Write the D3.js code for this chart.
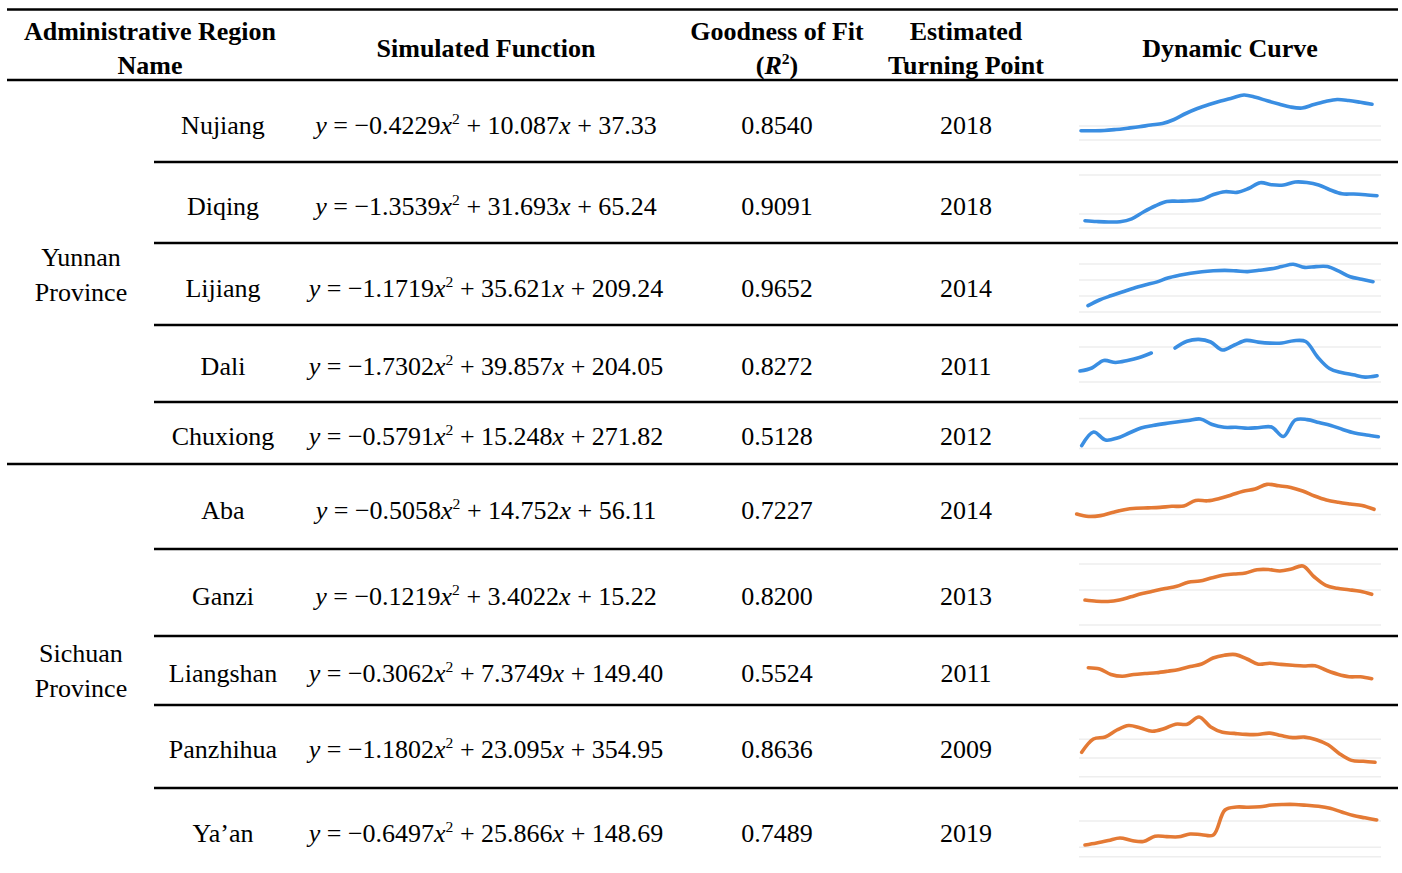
<!DOCTYPE html>
<html><head><meta charset="utf-8">
<script src="https://cdn.jsdelivr.net/npm/d3@7"></script>
<style>
body{margin:0;background:#fff}
svg{display:block}
text{font-family:"Liberation Serif","Times New Roman",serif;fill:#000}
</style>
</head><body><svg id="c" width="1402" height="873"></svg>
<script>
// ---------------- DATA ----------------
const provinces = [["Yunnan","Province"],["Sichuan","Province"]];
const regions = ["Nujiang","Diqing","Lijiang","Dali","Chuxiong","Aba","Ganzi","Liangshan","Panzhihua","Ya’an"];
const regionProvince = [0,0,0,0,0,1,1,1,1,1];
const coefA = ["0.4229","1.3539","1.1719","1.7302","0.5791","0.5058","0.1219","0.3062","1.1802","0.6497"];
const coefB = ["10.087","31.693","35.621","39.857","15.248","14.752","3.4022","7.3749","23.095","25.866"];
const coefC = ["37.33","65.24","209.24","204.05","271.82","56.11","15.22","149.40","354.95","148.69"];
const r2 = ["0.8540","0.9091","0.9652","0.8272","0.5128","0.7227","0.8200","0.5524","0.8636","0.7489"];
const turningPoints = ["2018","2018","2014","2011","2012","2014","2013","2011","2009","2019"];

// dynamic curves (relative index values, 26 annual observations)
const curveNujiang   = [18.6,18.6,19,21,23.6,26.4,30,33,41,53,63,71,78,84,90,85.4,78.4,72,66,64,71,77,81,79,75.4,71.4];
const curveDiqing    = [18.6,17,16,16.6,22.4,36,48,57,57.6,58.4,61,71,76.6,75.2,83,94.6,90.4,90,96,95,90,80,72.4,72,70.6,68.6];
const curveLijiang   = [12.6,24,32.4,40,47.6,54,59.8,68,73.4,77.6,80.6,82.4,83.2,82.2,80.8,83.4,86.2,90.8,95.4,89.2,90.8,90.8,81.6,70.4,65.4,60.6];
const curveDali      = [22,28,43,39,43,49,58,null,68,81.4,85.2,80,64,74,83.2,79.8,77.8,78,82.6,81,50,27,19,14.4,9.8,12.6];
const curveChuxiong  = [8.6,36,20,24,34,44,49,52.8,56,59,62,51,45.4,45.4,43.4,45,46,27,60,60.8,55,49.2,41,34,30,26.6];
const curveAba       = [12,7,8.8,15,20.6,23.4,24.2,25.2,27.4,28,39,38.4,43,50,57.4,62,71.2,68.4,65.2,58,48,40,35.4,32,29,21.4];
const curveGanzi     = [20,17.6,17,20,26.4,32.8,38,43,47.4,55.4,58,64,69.6,72,74,80.6,81,78,82,88,66,49.2,43.4,40.6,37.4,31.4];
const curveLiangshan = [44.6,42,31,27.4,31,33,34.6,37.6,41.2,47,52,64,69.6,70.8,62,51.6,53.4,51.2,49.4,48,48.4,39.4,31.6,26.6,26.4,22.6];
const curvePanzhihua = [55.4,82,86,100,109,104,97.4,102.4,111.6,111.6,126,106,95.4,93.2,91.2,91,93.8,88.8,84.8,85.8,80.6,70.4,52.2,39.2,37.4,35.4];
const curveYaan      = [30,34,38.8,44,39,37,47.4,46.8,46.4,52,50.6,50,100,106,105.4,106.4,110,111,111,109.4,107.4,103.4,96,88.8,84.4,80];
const curves = [curveNujiang,curveDiqing,curveLijiang,curveDali,curveChuxiong,curveAba,curveGanzi,curveLiangshan,curvePanzhihua,curveYaan];
// faint reference gridlines of each small chart (same units)
const gridValues = [[0,28],[4,32,110],[0,32,64,96],[0,70],[3,63],[11],[-30,40,92],[],[6.6,44,81.4],[6.6,25.4,78]];

// ---------------- LAYOUT ----------------
const W = 1402, H = 873;
const svg = d3.select("#c");
svg.append("rect").attr("width",W).attr("height",H).attr("fill","#fff");
const FS = 26;
const rowBounds = [81,162,243,325,402,464,549,636,705,788,873];
const rowCY = [125,206,288,366,436,510,596,673,749,833];
const spark = [
  {x0:1081,x1:1372,yb:140},{x0:1085,x1:1377,yb:230},{x0:1088,x1:1373,yb:312},
  {x0:1080,x1:1377,yb:382},{x0:1081.7,x1:1378.3,yb:450},{x0:1076.7,x1:1374,yb:520},
  {x0:1085,x1:1371.7,yb:610},{x0:1088.3,x1:1371.7,yb:690},{x0:1081.7,x1:1375,yb:780},
  {x0:1085,x1:1376.7,yb:860}
];
const colX = {prov:81, city:223, func:486, r2:777, tp:966, curve:1230};
const seriesColor = ["#3a8ee2","#e47a35"];

// rules
const rule = (x1,x2,y,w)=>svg.append("line").attr("x1",x1).attr("x2",x2).attr("y1",y).attr("y2",y)
  .attr("stroke","#000").attr("stroke-width",w);
rule(7,1398,9.5,2.7);
rule(7,1398,80,2.3);
rowBounds.slice(1,-1).forEach((y,i)=>{
  const full = (i===4);
  rule(full?7:154,1398,y,2.3);
});

// header
const hdr = svg.append("g").attr("font-weight","bold").attr("font-size",FS).attr("text-anchor","middle");
const htxt = (x,y,s)=>hdr.append("text").attr("x",x).attr("y",y).text(s);
htxt(150,40,"Administrative Region");
htxt(150,74,"Name");
htxt(colX.func,57,"Simulated Function");
htxt(colX.r2,40,"Goodness of Fit");
const rh = hdr.append("text").attr("x",colX.r2).attr("y",74);
rh.append("tspan").text("(");
rh.append("tspan").attr("font-style","italic").text("R");
rh.append("tspan").attr("font-size",FS*0.6).attr("dy",-10).text("2");
rh.append("tspan").attr("dy",10).text(")");
htxt(colX.tp,40,"Estimated");
htxt(colX.tp,74,"Turning Point");
htxt(colX.curve,57,"Dynamic Curve");

// body
const body = svg.append("g").attr("font-size",FS).attr("text-anchor","middle");
provinces.forEach((p,pi)=>{
  const idx = regionProvince.map((v,i)=>v===pi?i:-1).filter(i=>i>=0);
  const top = rowBounds[idx[0]], bot = rowBounds[idx[idx.length-1]+1];
  const cy = (top+bot)/2 + 1.5;
  body.append("text").attr("x",colX.prov).attr("y",cy-8).text(p[0]);
  body.append("text").attr("x",colX.prov).attr("y",cy+27).text(p[1]);
});
regions.forEach((r,i)=>{
  const by = rowCY[i]+9;
  body.append("text").attr("x",colX.city).attr("y",by).text(r);
  const t = body.append("text").attr("x",colX.func).attr("y",by);
  t.append("tspan").attr("font-style","italic").text("y");
  t.append("tspan").text(" = −"+coefA[i]);
  t.append("tspan").attr("font-style","italic").text("x");
  t.append("tspan").attr("font-size",FS*0.6).attr("dy",-10).text("2");
  t.append("tspan").attr("dy",10).text(" + "+coefB[i]);
  t.append("tspan").attr("font-style","italic").text("x");
  t.append("tspan").text(" + "+coefC[i]);
  body.append("text").attr("x",colX.r2).attr("y",by).text(r2[i]);
  body.append("text").attr("x",colX.tp).attr("y",by).text(turningPoints[i]);
});

// sparklines
curves.forEach((vals,i)=>{
  const L = spark[i];
  const x = d3.scaleLinear().domain([0,vals.length-1]).range([L.x0,L.x1]);
  const y = d3.scaleLinear().domain([0,100]).range([L.yb,L.yb-50]);
  const g = svg.append("g");
  g.selectAll("line.grid").data(gridValues[i]).join("line").attr("class","grid")
    .attr("x1",1079).attr("x2",1381).attr("y1",d=>y(d)).attr("y2",d=>y(d))
    .attr("stroke","#eeeeee").attr("stroke-width",1.5);
  const line = d3.line().defined(d=>d!=null).x((d,j)=>x(j)).y(d=>y(d)).curve(d3.curveCatmullRom.alpha(0.5));
  g.append("path").attr("d",line(vals)).attr("fill","none")
    .attr("stroke",seriesColor[regionProvince[i]]).attr("stroke-width",3.6)
    .attr("stroke-linecap","round").attr("stroke-linejoin","round");
});
</script>
</body></html>
